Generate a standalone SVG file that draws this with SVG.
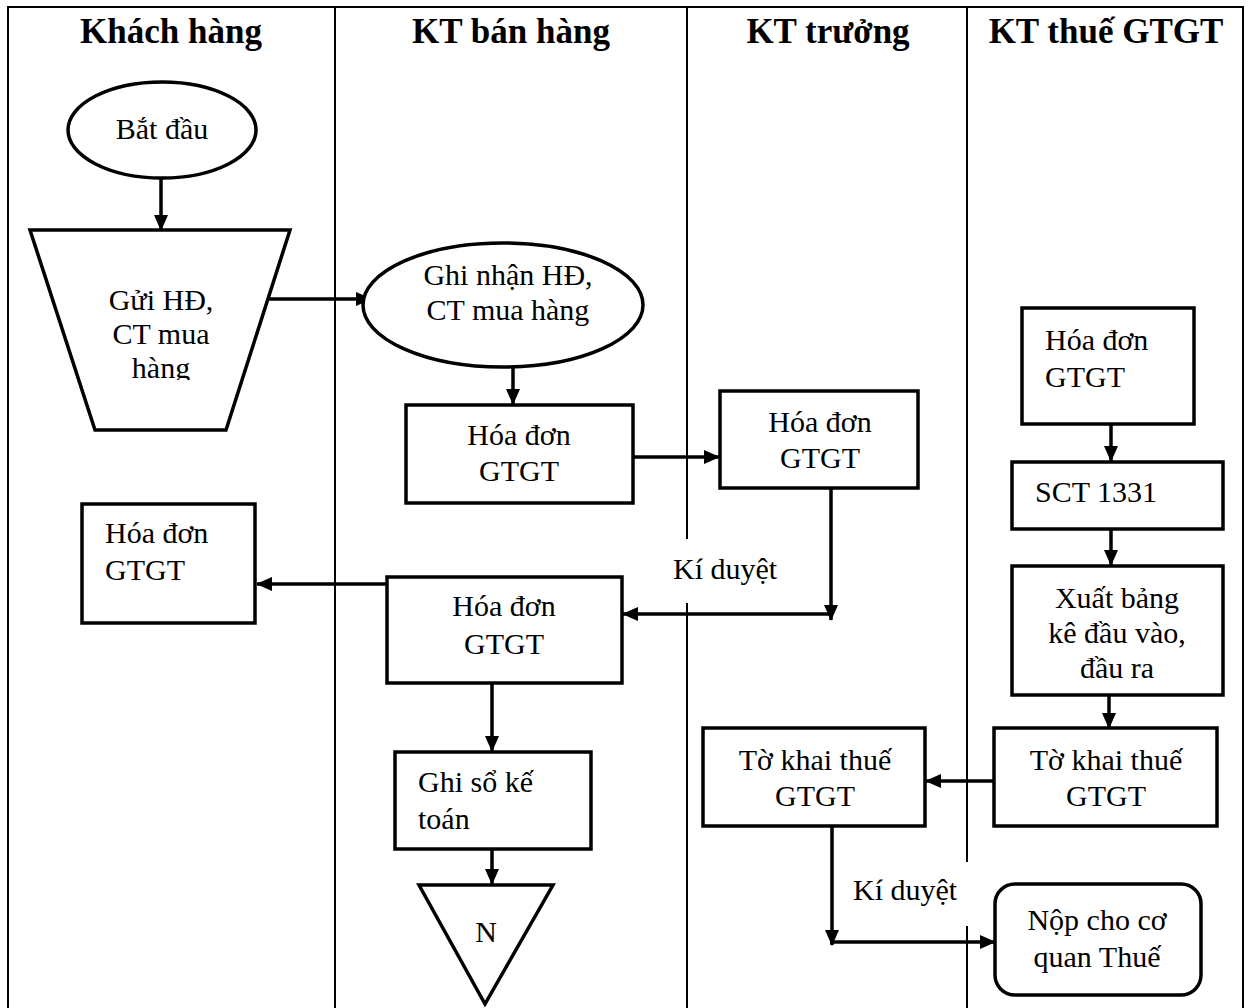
<svg xmlns="http://www.w3.org/2000/svg" width="1248" height="1008" viewBox="0 0 1248 1008">
<style>
  .lane{stroke:#000;stroke-width:2;fill:none}
  .shape{stroke:#000;stroke-width:3.5;fill:#fff}
  .conn{stroke:#000;stroke-width:3.5;fill:none}
  .hdr{font-family:"Liberation Serif","Times New Roman",serif;font-weight:bold;font-size:35px;fill:#000;text-anchor:middle}
  .t{font-family:"Liberation Serif","Times New Roman",serif;font-size:30px;fill:#000}
  .c{text-anchor:middle}
</style>
<defs>
  <marker id="ah" viewBox="0 0 16 14" refX="15" refY="7" markerWidth="16" markerHeight="14" markerUnits="userSpaceOnUse" orient="auto">
    <path d="M0,0 L16,7 L0,14 z" fill="#000"/>
  </marker>
  <clipPath id="trapClip"><rect x="60" y="270" width="200" height="110"/></clipPath>
</defs>
<rect width="1248" height="1008" fill="#fff"/>
<g id="lanes">
  <path class="lane" d="M8,1008 V7 H1243 V1008"/>
  <line class="lane" x1="335" y1="7" x2="335" y2="1008"/>
  <path class="lane" d="M687,7 V539 M687,603 V1008"/>
  <path class="lane" d="M967,7 V862 M967,926 V1008"/>
</g>
<g id="headers">
  <text class="hdr" x="171" y="43">Khách hàng</text>
  <text class="hdr" x="511" y="43">KT bán hàng</text>
  <text class="hdr" x="828" y="43">KT trưởng</text>
  <text class="hdr" x="1106" y="43">KT thuế GTGT</text>
</g>
<g id="connectors">
  <line class="conn" x1="161" y1="178" x2="161" y2="230" marker-end="url(#ah)"/>
  <line class="conn" x1="263" y1="299" x2="371" y2="299" marker-end="url(#ah)"/>
  <line class="conn" x1="513" y1="367" x2="513" y2="404" marker-end="url(#ah)"/>
  <line class="conn" x1="633" y1="457" x2="719" y2="457" marker-end="url(#ah)"/>
  <line class="conn" x1="831" y1="488" x2="831" y2="620" marker-end="url(#ah)"/>
  <line class="conn" x1="833" y1="614" x2="623" y2="614" marker-end="url(#ah)"/>
  <line class="conn" x1="387" y1="584" x2="257" y2="584" marker-end="url(#ah)"/>
  <line class="conn" x1="492" y1="683" x2="492" y2="751" marker-end="url(#ah)"/>
  <line class="conn" x1="492" y1="849" x2="492" y2="884" marker-end="url(#ah)"/>
  <line class="conn" x1="1111" y1="424" x2="1111" y2="461" marker-end="url(#ah)"/>
  <line class="conn" x1="1111" y1="529" x2="1111" y2="565" marker-end="url(#ah)"/>
  <line class="conn" x1="1109" y1="695" x2="1109" y2="728" marker-end="url(#ah)"/>
  <line class="conn" x1="994" y1="781" x2="926" y2="781" marker-end="url(#ah)"/>
  <line class="conn" x1="832" y1="826" x2="832" y2="945" marker-end="url(#ah)"/>
  <line class="conn" x1="830" y1="942" x2="995" y2="942" marker-end="url(#ah)"/>
  <text class="t" x="673" y="579">Kí duyệt</text>
  <text class="t" x="853" y="900">Kí duyệt</text>
</g>
<g id="n-batdau">
  <ellipse class="shape" cx="162" cy="130" rx="94" ry="48"/>
  <text class="t c" x="162" y="139">Bắt đầu</text>
</g>
<g id="n-guihd">
  <polygon class="shape" points="30,230 290,230 226,430 95,430"/>
  <g clip-path="url(#trapClip)">
    <text class="t c" x="161" y="310">Gửi HĐ,</text>
    <text class="t c" x="161" y="344">CT mua</text>
    <text class="t c" x="161" y="378">hàng</text>
  </g>
</g>
<g id="n-ghinhan">
  <ellipse class="shape" cx="503" cy="305" rx="140" ry="62"/>
  <text class="t c" x="508" y="285">Ghi nhận HĐ,</text>
  <text class="t c" x="508" y="320">CT mua hàng</text>
</g>
<g id="n-hd-ban1">
  <rect class="shape" x="406" y="405" width="227" height="98"/>
  <text class="t c" x="519" y="445">Hóa đơn</text>
  <text class="t c" x="519" y="481">GTGT</text>
</g>
<g id="n-hd-truong">
  <rect class="shape" x="720" y="391" width="198" height="97"/>
  <text class="t c" x="820" y="432">Hóa đơn</text>
  <text class="t c" x="820" y="468">GTGT</text>
</g>
<g id="n-hd-ban2">
  <rect class="shape" x="387" y="577" width="235" height="106"/>
  <text class="t c" x="504" y="616">Hóa đơn</text>
  <text class="t c" x="504" y="654">GTGT</text>
</g>
<g id="n-hd-khach">
  <rect class="shape" x="82" y="504" width="173" height="119"/>
  <text class="t" x="105" y="543">Hóa đơn</text>
  <text class="t" x="105" y="580">GTGT</text>
</g>
<g id="n-ghiso">
  <rect class="shape" x="395" y="752" width="196" height="97"/>
  <text class="t" x="418" y="792">Ghi sổ kế</text>
  <text class="t" x="418" y="829">toán</text>
</g>
<g id="n-N">
  <polygon class="shape" points="419,885 553,885 485,1004"/>
  <text class="t c" x="486" y="942">N</text>
</g>
<g id="n-hd-thue">
  <rect class="shape" x="1022" y="308" width="172" height="116"/>
  <text class="t" x="1045" y="350">Hóa đơn</text>
  <text class="t" x="1045" y="387">GTGT</text>
</g>
<g id="n-sct">
  <rect class="shape" x="1012" y="462" width="211" height="67"/>
  <text class="t" x="1035" y="502">SCT 1331</text>
</g>
<g id="n-xuat">
  <rect class="shape" x="1012" y="566" width="211" height="129"/>
  <text class="t c" x="1117" y="608">Xuất bảng</text>
  <text class="t c" x="1117" y="643">kê đầu vào,</text>
  <text class="t c" x="1117" y="678">đầu ra</text>
</g>
<g id="n-tokhai-thue">
  <rect class="shape" x="994" y="728" width="223" height="98"/>
  <text class="t c" x="1106" y="770">Tờ khai thuế</text>
  <text class="t c" x="1106" y="806">GTGT</text>
</g>
<g id="n-tokhai-truong">
  <rect class="shape" x="703" y="728" width="222" height="98"/>
  <text class="t c" x="815" y="770">Tờ khai thuế</text>
  <text class="t c" x="815" y="806">GTGT</text>
</g>
<g id="n-nop">
  <rect class="shape" x="995" y="884" width="206" height="111" rx="20" ry="20"/>
  <text class="t c" x="1097" y="930">Nộp cho cơ</text>
  <text class="t c" x="1097" y="967">quan Thuế</text>
</g>
</svg>
